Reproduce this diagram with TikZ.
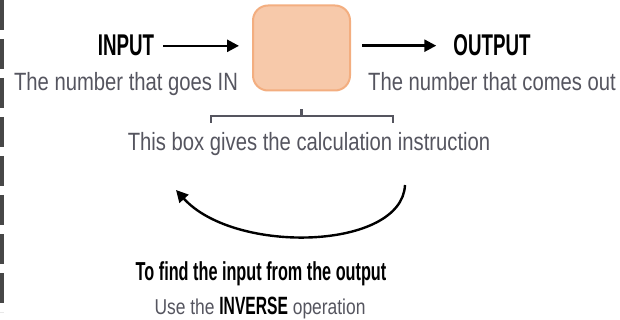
\documentclass[tikz,border=0pt]{standalone}
\usepackage{fontspec}
\setmainfont{Liberation Sans}[FakeStretch=0.81]
\newfontfamily\tagfont{Liberation Sans}[FakeStretch=0.625]
\usetikzlibrary{positioning,arrows.meta}
\definecolor{boxfill}{HTML}{F7C9AA}
\definecolor{boxline}{HTML}{F3AE80}
\definecolor{notegray}{HTML}{55555F}
\begin{document}
\begin{tikzpicture}[
  x=1pt, y=-1pt,
  fnbox/.style={draw=boxline, line width=2pt, fill=boxfill, rounded corners=15pt, minimum width=97pt, minimum height=85pt},
  tag/.style={font=\tagfont\bfseries\fontsize{30}{32}\selectfont, inner sep=0pt, anchor=base},
  note/.style={font=\fontsize{25}{27}\selectfont, text=notegray, inner sep=0pt, anchor=base},
  arrow/.style={-{Triangle[length=12pt,width=12pt]}, line width=2.6pt}
]
\useasboundingbox (0,0) rectangle (620,320);
\draw[line width=4pt, black!72, dash pattern=on 30pt off 9pt] (2,0) -- (2,312);
\node[fnbox] (fbox) at (301.5,48) {};
\node[tag] (input) at (126,56) {INPUT};
\node[tag] (output) at (492,56) {OUTPUT};
\node[note] (innote) at (126,91) {The number that goes IN};
\node[note] (outnote) at (492,91) {The number that comes out};
\node[note] (boxnote) at (309,151) {This box gives the calculation instruction};
\node[tag, font=\tagfont\bfseries\fontsize{26}{28}\selectfont] (find) at (261,280) {To find the input from the output};
\node[note, font=\fontsize{21.5}{23}\selectfont] (inverse) at (260,314) {Use the {\tagfont\bfseries\fontsize{25}{27}\selectfont\color{black}INVERSE} operation};
\draw[arrow] ([xshift=9pt]input.east) -- ([xshift=-13pt]input.east -| fbox.west);
\draw[arrow] ([xshift=11pt]output.west -| fbox.east) -- ([xshift=-17pt]output.west);
% bracket under the box
\coordinate (bl) at (211,116);
\coordinate (br) at (393,116);
\draw[notegray, line width=2pt] (211,123) -- (bl) -- (br) -- (393,123);
\draw[notegray, line width=3pt] (bl -| fbox.south) -- ++(0,-7);
% inverse arrow
\coordinate (back1) at (405,185);
\coordinate (back2) at (176,190);
\draw[arrow, line width=2.4pt] (back1) .. controls (402,250) and (235,255) .. (back2);
\end{tikzpicture}
\end{document}
